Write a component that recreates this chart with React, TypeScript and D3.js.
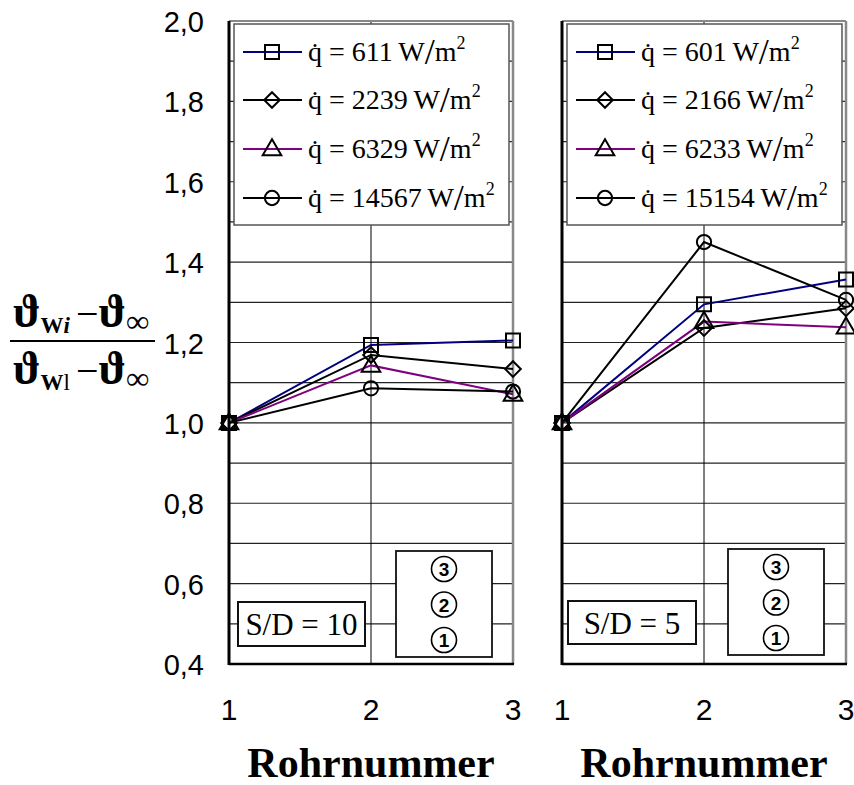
import React from "react";
import * as d3 from "d3";

const tubes = [1, 2, 3];
const yTicks = [0.4, 0.6, 0.8, 1.0, 1.2, 1.4, 1.6, 1.8, 2.0];
const yGrid = [0.5, 0.6, 0.7, 0.8, 0.9, 1.0, 1.1, 1.2, 1.3, 1.4, 1.5, 1.6, 1.7, 1.8, 1.9];

const leftFlux = ["611", "2239", "6329", "14567"];
const rightFlux = ["601", "2166", "6233", "15154"];

const left611 = [1.0, 1.194, 1.205];
const left2239 = [1.0, 1.169, 1.134];
const left6329 = [1.0, 1.143, 1.071];
const left14567 = [1.0, 1.086, 1.078];

const right601 = [1.0, 1.295, 1.357];
const right2166 = [1.0, 1.236, 1.285];
const right6233 = [1.0, 1.252, 1.238];
const right15154 = [1.0, 1.45, 1.306];

const seriesColors = ["#000080", "#000000", "#800080", "#000000"];
const seriesMarkers = ["square", "diamond", "triangle", "circle"];

const panels = [
  { left: 229, right: 513, flux: leftFlux, values: [left611, left2239, left6329, left14567], sd: "S/D = 10",
    sdBox: [238, 602, 127, 44], numBox: [396, 551, 96, 106] },
  { left: 562, right: 846, flux: rightFlux, values: [right601, right2166, right6233, right15154], sd: "S/D = 5",
    sdBox: [568, 601, 128, 43], numBox: [728, 549, 96, 106] },
];

const TOP = 21;
const BOTTOM = 664;
const y = d3.scaleLinear().domain([0.4, 2.0]).range([BOTTOM, TOP]);

function Marker({ type, cx, cy }: { type: string; cx: number; cy: number }) {
  const common = { fill: "none", stroke: "#000", strokeWidth: 2 };
  if (type === "square") {
    const p = d3.symbol().type(d3.symbolSquare).size(196)();
    return <path d={p || ""} transform={`translate(${cx},${cy})`} {...common} />;
  }
  if (type === "diamond") {
    const p = d3.symbol().type(d3.symbolSquare).size(121)();
    return <path d={p || ""} transform={`translate(${cx},${cy}) rotate(45)`} {...common} />;
  }
  if (type === "triangle") {
    const p = d3.symbol().type(d3.symbolTriangle).size(150)();
    return <path d={p || ""} transform={`translate(${cx},${cy + 1})`} {...common} />;
  }
  const p = d3.symbol().type(d3.symbolCircle).size(160)();
  return <path d={p || ""} transform={`translate(${cx},${cy})`} {...common} />;
}

const serif = "'Liberation Serif', 'Times New Roman', serif";
const sans = "'Liberation Sans', Arial, sans-serif";

function Panel({ p }: { p: (typeof panels)[0] }) {
  const x = d3.scaleLinear().domain([1, 3]).range([p.left, p.right]);
  const line = d3
    .line<number>()
    .x((_, i) => x(tubes[i]))
    .y((d) => y(d));
  const legendRows = [52, 100, 149, 198];
  const lx = p.left + 5;
  return (
    <g>
      {yGrid.map((v) => (
        <line key={v} x1={p.left} x2={p.right} y1={y(v)} y2={y(v)} stroke="#222" strokeWidth={1.2} />
      ))}
      <line x1={x(2)} x2={x(2)} y1={TOP} y2={BOTTOM} stroke="#000" strokeWidth={1} />
      <line x1={p.left} x2={p.right} y1={TOP} y2={TOP} stroke="#888" strokeWidth={2} />
      <line x1={p.right} x2={p.right} y1={TOP} y2={BOTTOM} stroke="#888" strokeWidth={2.5} />
      {/* legend */}
      <rect x={lx} y={24} width={p.right - p.left - 9} height={201} fill="#fff" stroke="#555" strokeWidth={1.5} />
      {p.flux.map((f, i) => (
        <g key={f}>
          <line x1={lx + 9} x2={lx + 68} y1={legendRows[i]} y2={legendRows[i]} stroke={seriesColors[i]} strokeWidth={2} />
          <Marker type={seriesMarkers[i]} cx={lx + 38} cy={legendRows[i]} />
          <text x={lx + 74} y={legendRows[i] + 9} fontFamily={serif} fontSize={28} fill="#000">
            <tspan>q</tspan>
            <tspan dx={-11.7} dy={1}>˙</tspan>
            <tspan dx={2.4} dy={-1}>{` = ${f}\u2009W`}</tspan>
            <tspan fontSize={36} dy={3}>/</tspan>
            <tspan dy={-3}>m</tspan>
            <tspan fontSize={18} dy={-12}>2</tspan>
          </text>
        </g>
      ))}
      {/* data */}
      {p.values.map((vals, i) => (
        <path key={"l" + i} d={line(vals) || ""} fill="none" stroke={seriesColors[i]} strokeWidth={2} />
      ))}
      {p.values.map((vals, i) =>
        vals.map((v, j) => <Marker key={`m${i}-${j}`} type={seriesMarkers[i]} cx={x(tubes[j])} cy={y(v)} />)
      )}
      {/* bottom boxes */}
      <rect x={p.sdBox[0]} y={p.sdBox[1]} width={p.sdBox[2]} height={p.sdBox[3]} fill="#fff" stroke="#111" strokeWidth={2} />
      <text x={p.sdBox[0] + p.sdBox[2] / 2} y={p.sdBox[1] + 33} textAnchor="middle" fontFamily={serif} fontSize={31}>
        {p.sd}
      </text>
      <rect x={p.numBox[0]} y={p.numBox[1]} width={p.numBox[2]} height={p.numBox[3]} fill="#fff" stroke="#111" strokeWidth={1.8} />
      {["3", "2", "1"].map((d, k) => {
        const cx = p.numBox[0] + p.numBox[2] / 2;
        const cy = p.numBox[1] + 18 + k * 35.5;
        return (
          <g key={d}>
            <circle cx={cx} cy={cy} r={12.5} fill="none" stroke="#000" strokeWidth={1.6} />
            <text x={cx} y={cy + 7} textAnchor="middle" fontFamily={sans} fontWeight="bold" fontSize={19}>
              {d}
            </text>
          </g>
        );
      })}
      {/* axes */}
      <line x1={p.left} x2={p.left} y1={TOP} y2={BOTTOM + 1} stroke="#000" strokeWidth={3} />
      <line x1={p.left} x2={p.right + 1} y1={BOTTOM} y2={BOTTOM} stroke="#000" strokeWidth={2.5} />
      {tubes.map((t) => (
        <text key={t} x={x(t)} y={720} textAnchor="middle" fontFamily={sans} fontSize={30}>
          {t}
        </text>
      ))}
      <text x={(p.left + p.right) / 2} y={777} textAnchor="middle" fontFamily={serif} fontWeight="bold" fontSize={42}>
        Rohrnummer
      </text>
    </g>
  );
}

export default function App() {
  return (
    <svg width={854} height={785} style={{ position: "absolute", left: 0, top: 0, background: "#fff" }}>
      <rect x={0} y={0} width={854} height={785} fill="#fff" />
      {yTicks.map((v) => (
        <text key={v} x={204} y={y(v) + 11} textAnchor="end" fontFamily={sans} fontSize={29}>
          {v.toFixed(1).replace(".", ",")}
        </text>
      ))}
      {panels.map((p, i) => (
        <Panel key={i} p={p} />
      ))}
      {/* y-axis label fraction */}
      <g fontFamily={serif} fontWeight="bold">
        <text x={81} y={327} textAnchor="middle" fontSize={46}>
          <tspan>ϑ</tspan>
          <tspan fontSize={23} dy={6}>W</tspan>
          <tspan fontSize={23} fontStyle="italic">i</tspan>
          <tspan dy={-6} dx={6} fontWeight="normal" fontSize={40}>−</tspan>
          <tspan>ϑ</tspan>
          <tspan fontSize={32} dy={5}>∞</tspan>
        </text>
        <line x1={10} x2={155} y1={341} y2={341} stroke="#000" strokeWidth={2} />
        <text x={81} y={384} textAnchor="middle" fontSize={46}>
          <tspan>ϑ</tspan>
          <tspan fontSize={23} dy={6}>W</tspan>
          <tspan fontSize={23} fontWeight="normal">l</tspan>
          <tspan dy={-6} dx={6} fontWeight="normal" fontSize={40}>−</tspan>
          <tspan>ϑ</tspan>
          <tspan fontSize={32} dy={5}>∞</tspan>
        </text>
      </g>
    </svg>
  );
}
